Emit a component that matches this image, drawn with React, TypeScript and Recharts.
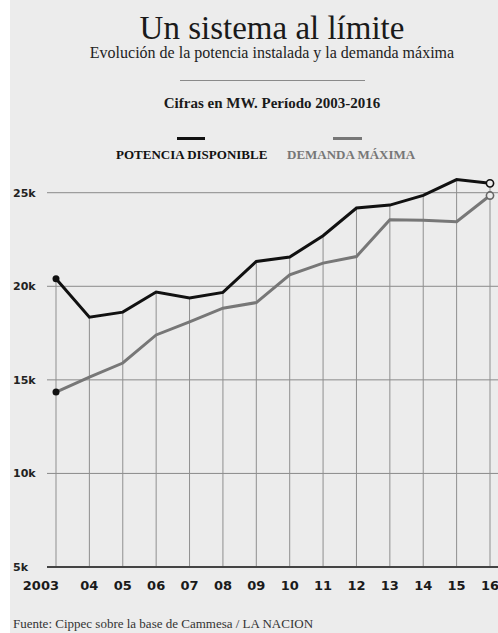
import { Line, LineChart, ReferenceLine, XAxis, YAxis } from "recharts";

const years = ["2003", "04", "05", "06", "07", "08", "09", "10", "11", "12", "13", "14", "15", "16"];
const potenciaDisponible = [20400, 18350, 18620, 19690, 19370, 19670, 21330, 21560, 22700, 24180, 24340, 24860, 25700, 25500];
const demandaMaxima = [14350, 15150, 15900, 17400, 18100, 18830, 19130, 20610, 21240, 21590, 23560, 23530, 23450, 24850];
const yTicks = [5000, 10000, 15000, 20000, 25000];
const yTickLabels = ["5k", "10k", "15k", "20k", "25k"];

const data = years.map((year, i) => ({
  year,
  potencia: potenciaDisponible[i],
  demanda: demandaMaxima[i],
}));

const BG = "#ececec";
const serif = "'Liberation Serif', 'Times New Roman', serif";
const sans = "'DejaVu Sans', sans-serif";

function makeDot(color: string) {
  return (props: any) => {
    const { cx, cy, index } = props;
    if (index === 0) {
      return <circle key={`d${index}`} cx={cx} cy={cy} r={3.5} fill="#111" />;
    }
    if (index === years.length - 1) {
      return (
        <circle key={`d${index}`} cx={cx} cy={cy} r={3.6} fill={BG} stroke={color} strokeWidth={1.6} />
      );
    }
    return <g key={`d${index}`} />;
  };
}

function YTick({ y = 0, payload }: any) {
  const idx = yTicks.indexOf(Number(payload?.value));
  return (
    <text x={13} y={Number(y)} dy={4} textAnchor="start" fill="#222" fontSize={11} fontWeight={700} fontFamily={sans}>
      {yTickLabels[idx] ?? ""}
    </text>
  );
}

function XTick({ x = 0, y = 0, payload, index }: any) {
  const first = index === 0;
  return (
    <text
      x={Number(x) + (first ? 3 : 0)}
      y={Number(y)}
      dy={15}
      textAnchor={first ? "end" : "middle"}
      fill="#1a1a1a"
      fontSize={13}
      fontWeight={700}
      fontFamily={sans}
    >
      {payload?.value}
    </text>
  );
}

export default function App() {
  return (
    <div style={{ position: "relative", width: 498, height: 633, background: "#fff", overflow: "hidden" }}>
      <style>{`body{margin:0}`}</style>
      <div style={{ position: "absolute", left: 10, top: 0, width: 488, height: 633, background: BG }} />

      <div style={{ position: "absolute", left: 0, width: 544, top: 10, textAlign: "center", fontFamily: serif, fontSize: 33, lineHeight: "36px", color: "#1a1a1a" }}>
        Un sistema al límite
      </div>
      <div style={{ position: "absolute", left: 0, width: 544, top: 44, textAlign: "center", fontFamily: serif, fontSize: 16, lineHeight: "18px", color: "#222" }}>
        Evolución de la potencia instalada y la demanda máxima
      </div>
      <div style={{ position: "absolute", left: 180, top: 80, width: 185, height: 1, background: "#8a8a8a" }} />
      <div style={{ position: "absolute", left: 0, width: 544, top: 94, textAlign: "center", fontFamily: serif, fontSize: 15, fontWeight: 700, lineHeight: "18px", color: "#1a1a1a" }}>
        Cifras en MW. Período 2003-2016
      </div>

      <div style={{ position: "absolute", left: 177, top: 137, width: 28, height: 3, background: "#111" }} />
      <div style={{ position: "absolute", left: 116, top: 148, fontFamily: serif, fontSize: 13, fontWeight: 700, lineHeight: "14px", color: "#111", whiteSpace: "nowrap" }}>
        POTENCIA DISPONIBLE
      </div>
      <div style={{ position: "absolute", left: 333, top: 137, width: 29, height: 3, background: "#777" }} />
      <div style={{ position: "absolute", left: 287, top: 148, fontFamily: serif, fontSize: 13, fontWeight: 700, lineHeight: "14px", color: "#777", whiteSpace: "nowrap" }}>
        DEMANDA MÁXIMA
      </div>

      <div style={{ position: "absolute", left: 13, top: 616, fontFamily: serif, fontSize: 13, lineHeight: "15px", color: "#333", whiteSpace: "nowrap" }}>
        Fuente: Cippec sobre la base de Cammesa / LA NACION
      </div>

      <div style={{ position: "absolute", left: 0, top: 0 }}>
        <LineChart width={498} height={633} data={data} margin={{ top: 174, right: 0, bottom: 0, left: 0 }}>
          <XAxis
            dataKey="year"
            padding={{ left: 9, right: 8 }}
            height={66}
            axisLine={{ stroke: "#444", strokeWidth: 2 }}
            tickLine={false}
            tick={<XTick />}
            interval={0}
          />
          <YAxis
            width={47}
            domain={[5000, 26000]}
            ticks={yTicks}
            axisLine={false}
            tickLine={false}
            tick={<YTick />}
          />
          {yTicks.slice(1).map((v) => (
            <ReferenceLine key={`h${v}`} y={v} stroke="#8a8a8a" strokeWidth={1} />
          ))}
          {data.map((d) => (
            <ReferenceLine
              key={d.year}
              segment={[
                { x: d.year, y: 5000 },
                { x: d.year, y: d.potencia },
              ]}
              stroke="#8f8f8f"
              strokeWidth={1}
            />
          ))}
          <Line
            type="linear"
            dataKey="demanda"
            stroke="#777"
            strokeWidth={3}
            dot={makeDot("#666")}
            activeDot={false}
            isAnimationActive={false}
          />
          <Line
            type="linear"
            dataKey="potencia"
            stroke="#111"
            strokeWidth={3}
            dot={makeDot("#111")}
            activeDot={false}
            isAnimationActive={false}
          />
        </LineChart>
      </div>
    </div>
  );
}
